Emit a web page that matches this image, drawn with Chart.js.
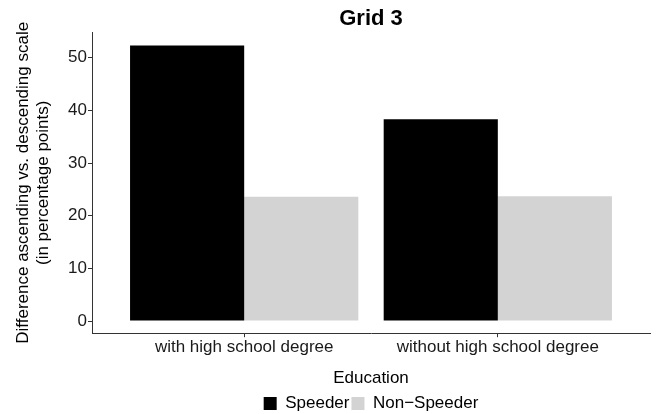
<!DOCTYPE html>
<html>
<head>
<meta charset="utf-8">
<script src="https://cdn.jsdelivr.net/npm/chart.js@4"></script>
<style>
  html, body { margin: 0; padding: 0; background: #fff; }
  #wrap { width: 657px; height: 414px; }
</style>
</head>
<body>
<div id="wrap"><canvas id="chart"></canvas></div>
<script>
const categories = ["with high school degree", "without high school degree"];
const speeder = [52.3, 38.3];
const nonSpeeder = [23.6, 23.7];
const yTicks = [0, 10, 20, 30, 40, 50];

const FONT = "'Liberation Sans', Arial, sans-serif";

// centre title and legend over the plot panel, as ggplot does
const centerOnPanel = {
  id: "centerOnPanel",
  afterLayout(chart) {
    const area = chart.chartArea;
    [chart.titleBlock, chart.legend].forEach((box) => {
      if (!box) return;
      box.left = area.left;
      box.right = area.right;
    });
  },
};

const ctx = document.getElementById("chart");
new Chart(ctx, {
  type: "bar",
  data: {
    datasets: [
      {
        label: "Speeder",
        data: speeder.map((v, i) => ({ x: i + 1, y: v })),
        backgroundColor: "#000000",
        borderWidth: 0,
      },
      {
        label: "Non\u2212Speeder",
        data: nonSpeeder.map((v, i) => ({ x: i + 1, y: v })),
        backgroundColor: "#d3d3d3",
        borderWidth: 0,
      },
    ],
  },
  options: {
    responsive: true,
    maintainAspectRatio: false,
    animation: false,
    categoryPercentage: 0.9,
    barPercentage: 1,
    layout: { padding: { left: 14, right: 7, top: 0, bottom: -8 } },
    scales: {
      x: {
        type: "linear",
        offset: false,
        min: 0.4,
        max: 2.6,
        afterBuildTicks: (scale) => {
          scale.ticks = categories.map((c, i) => ({ value: i + 1 }));
        },
        ticks: {
          callback: (v) => categories[v - 1],
          color: "#1a1a1a",
          font: { family: FONT, size: 17 },
          padding: 0,
          maxRotation: 0,
          autoSkip: false,
        },
        grid: { offset: false, drawOnChartArea: false, drawTicks: true, tickLength: 4, color: "#333333" },
        border: { display: true, color: "#333333", width: 1 },
        title: {
          display: true,
          text: "Education",
          color: "#000",
          font: { family: FONT, size: 17 },
          padding: { top: 11, bottom: 4 },
        },
      },
      y: {
        min: -2.3,
        max: 54.8,
        afterBuildTicks: (scale) => {
          scale.ticks = yTicks.map((v) => ({ value: v }));
        },
        ticks: {
          color: "#1a1a1a",
          font: { family: FONT, size: 17 },
          padding: 1,
        },
        grid: { drawOnChartArea: false, drawTicks: true, tickLength: 4, color: "#333333" },
        border: { display: true, color: "#333333", width: 1 },
        title: {
          display: true,
          text: ["Difference ascending vs. descending scale", "(in percentage points)"],
          color: "#000",
          font: { family: FONT, size: 17, lineHeight: 1.15 },
          padding: { top: 0, bottom: 14 },
        },
      },
    },
    plugins: {
      title: {
        display: true,
        text: "Grid 3",
        color: "#000",
        font: { family: FONT, size: 22, weight: "bold" },
        padding: { top: 6, bottom: 0 },
      },
      legend: {
        position: "bottom",
        labels: {
          color: "#000",
          font: { family: FONT, size: 17 },
          boxWidth: 13,
          boxHeight: 13,
          padding: 2,
        },
      },
      tooltip: { enabled: false },
    },
  },
  plugins: [centerOnPanel],
});
</script>
</body>
</html>
